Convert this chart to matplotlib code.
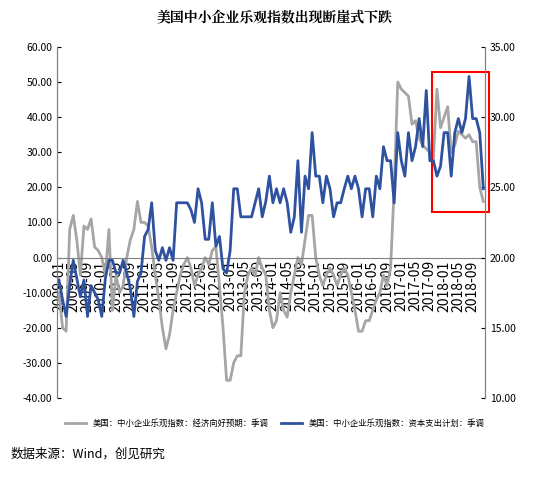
import matplotlib
matplotlib.use("Agg")
import matplotlib.pyplot as plt
from matplotlib.patches import Rectangle
import numpy as np
import pandas as pd

plt.rcParams['font.family'] = ['Noto Sans CJK SC', 'DejaVu Sans']

months = pd.date_range("2009-01", periods=120, freq="MS").strftime("%Y-%m").tolist()
gray_vals = [-10,-20,-21,8,12,5,-5,9,8,11,3,2,
 0,-5,8,-15,-5,-10,-8,0,5,8,16,10,
 10,9,3,-5,-12,-20,-26,-22,-15,-10,-5,-2,
 0,-3,-8,-5,-3,0,-2,2,3,-8,-20,-35,
 -35,-30,-28,-28,-10,-5,-3,-5,0,-3,-5,-15,
 -20,-18,-10,-15,-17,-10,-5,0,-2,5,12,12,
 0,-5,-8,-5,-3,-5,-8,-5,-3,-5,-10,-15,
 -21,-21,-18,-18,-15,-12,-10,-5,-8,-3,20,50,
 48,47,46,38,39,34,32,31,30,28,48,37,
 40,43,30,32,36,35,34,35,33,33,20,16]
blue_vals = [18.4,17,15.8,18,19.8,18.5,17.2,18.4,15.8,18,17.5,17,
 15.8,18.5,19.8,19.8,18.9,18.9,19.8,18.9,17.8,15.8,18.3,18.9,
 21.5,22,23.9,20.5,19.8,20.7,19.8,20.7,19.8,23.9,23.9,23.9,
 23.9,23.4,22.5,24.9,23.9,21.3,21.3,23.9,20.8,21.5,19.2,18.9,
 20.5,24.9,24.9,22.9,22.9,22.9,22.9,23.9,24.9,22.9,24,25.8,
 23.9,24.9,23.9,24.9,23.9,21.8,22.9,26.9,21.8,25.8,24.9,28.9,
 25.8,25.8,23.9,25.8,24.9,22.9,23.9,23.9,24.9,25.8,24.9,25.8,
 24.9,22.9,24.9,24.9,22.9,25.8,24.9,27.9,26.9,26.9,23.9,28.9,
 26.9,25.8,28.9,26.9,27.9,29.9,27.9,31.9,26.9,26.9,25.8,26.5,
 28.9,28.9,25.8,28.9,29.9,28.9,29.9,32.9,29.9,29.9,28.9,24.9]
gray_label = "美国：中小企业乐观指数：经济向好预期：季调"
blue_label = "美国：中小企业乐观指数：资本支出计划：季调"

x = np.arange(len(months))
fig = plt.figure(figsize=(5.5, 4.87), dpi=100)
ax = fig.add_axes([0.104, 0.183, 0.778, 0.7205])
ax2 = ax.twinx()
l1, = ax.plot(x, gray_vals, color='#a6a6a6', lw=2, label=gray_label)
l2, = ax2.plot(x, blue_vals, color='#2f52a0', lw=2, label=blue_label)
ax.set_ylim(-40, 60)
ax2.set_ylim(10, 35)
ax.set_yticks(np.arange(-40, 61, 10))
ax.set_yticklabels([f"{v:.2f}" for v in np.arange(-40, 61, 10)], fontsize=7.5)
ax2.set_yticks(np.arange(10, 36, 5))
ax2.set_yticklabels([f"{v:.2f}" for v in np.arange(10, 36, 5)], fontsize=7.5)
ax.set_xlim(-0.5, 119.5)
ax.set_xticks(x[::4])
ax.set_xticklabels(months[::4], fontsize=7)
ax.spines['bottom'].set_position(('data', 0))
for a in (ax, ax2):
    a.spines['top'].set_visible(False)
    for s in a.spines.values():
        s.set_color('#808080')
    a.tick_params(colors='black', length=3, direction='in')
ax2.spines['bottom'].set_visible(False)
ax.tick_params(axis='x', length=0, pad=2)
for t in ax.get_xticklabels():
    t.set_rotation(90)
    t.set_va('top')
    t.set_ha('center')

ax2.add_patch(Rectangle((104.5, 23.25), 16, 9.95, fill=False, edgecolor='red', lw=1.5, clip_on=False))

fig.text(0.5, 0.955, "美国中小企业乐观指数出现断崖式下跌", ha='center', fontsize=10, fontweight='bold', family=['Noto Serif CJK SC', 'Noto Sans CJK SC'])
fig.legend([l1, l2], [gray_label, blue_label], loc='center', bbox_to_anchor=(0.5, 0.13), ncol=2, frameon=False, fontsize=6, handlelength=2.5, columnspacing=1.5)
fig.text(0.02, 0.06, "数据来源：Wind，创见研究", fontsize=9)
fig.savefig("out.png", dpi=100)
